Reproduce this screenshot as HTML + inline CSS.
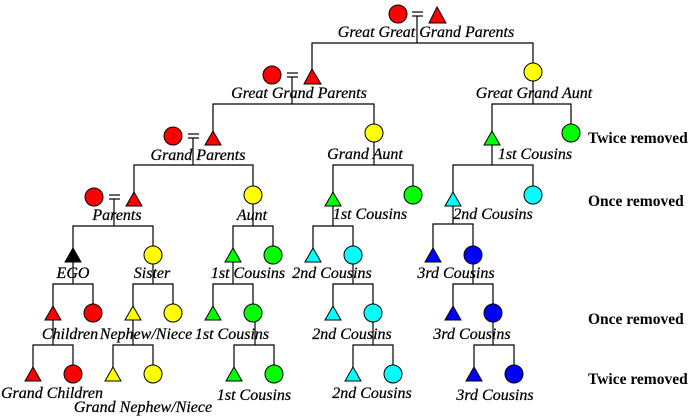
<!DOCTYPE html>
<html><head><meta charset="utf-8"><style>
html,body{margin:0;padding:0;background:#fff;}
svg{display:block;}
text{font-family:"Liberation Serif",serif;font-size:16px;font-style:italic;fill:#000;stroke:#000;stroke-width:0.25;}
text.r{font-style:normal;font-weight:bold;font-size:15.5px;stroke-width:0;}
line,polyline{stroke:#000;stroke-width:1.2;fill:none;}
circle,polygon{stroke:#000;stroke-width:1;}
</style></head><body>
<svg width="700" height="420" viewBox="0 0 700 420" xmlns="http://www.w3.org/2000/svg">
<g>
<line x1="412" y1="12" x2="423" y2="12"/><line x1="412" y1="16" x2="423" y2="16"/>
<line x1="417" y1="16" x2="417" y2="43"/>
<polyline points="312,77 312,43 533,43 533,72"/>
<line x1="287" y1="73" x2="298" y2="73"/><line x1="287" y1="77" x2="298" y2="77"/>
<line x1="292" y1="77" x2="292" y2="104"/>
<polyline points="213,139 213,104 374,104 374,133"/>
<line x1="533" y1="80" x2="533" y2="104"/>
<polyline points="492,138 492,104 571,104 571,133"/>
<line x1="492" y1="145" x2="492" y2="165"/>
<polyline points="453,200 453,165 533,165 533,195"/>
<line x1="453" y1="206" x2="453" y2="224"/>
<polyline points="433,255 433,224 473,224 473,255"/>
<line x1="473" y1="262" x2="473" y2="284"/>
<polyline points="453,313 453,284 493,284 493,313"/>
<line x1="493" y1="320" x2="493" y2="345"/>
<polyline points="474,374 474,345 514,345 514,374"/>
<line x1="188" y1="134" x2="199" y2="134"/><line x1="188" y1="138" x2="199" y2="138"/>
<line x1="193" y1="138" x2="193" y2="165"/>
<polyline points="134,199 134,165 253,165 253,195"/>
<line x1="374" y1="140" x2="374" y2="165"/>
<polyline points="333,199 333,165 413,165 413,195"/>
<line x1="333" y1="206" x2="333" y2="226"/>
<polyline points="313,255 313,226 353,226 353,255"/>
<line x1="353" y1="262" x2="353" y2="284"/>
<polyline points="333,313 333,284 373,284 373,313"/>
<line x1="373" y1="320" x2="373" y2="345"/>
<polyline points="353,374 353,345 393,345 393,374"/>
<line x1="109" y1="195" x2="120" y2="195"/><line x1="109" y1="199" x2="120" y2="199"/>
<line x1="114" y1="199" x2="114" y2="226"/>
<polyline points="73,255 73,226 153,226 153,255"/>
<line x1="73" y1="262" x2="73" y2="284"/>
<polyline points="53,313 53,284 93,284 93,313"/>
<line x1="153" y1="262" x2="153" y2="284"/>
<polyline points="133,313 133,284 173,284 173,313"/>
<line x1="53" y1="320" x2="53" y2="345"/>
<polyline points="33,374 33,345 73,345 73,374"/>
<line x1="133" y1="320" x2="133" y2="345"/>
<polyline points="113,374 113,345 153,345 153,374"/>
<line x1="253" y1="204" x2="253" y2="226"/>
<polyline points="233,255 233,226 273,226 273,255"/>
<line x1="233" y1="262" x2="233" y2="284"/>
<polyline points="213,313 213,284 253,284 253,313"/>
<line x1="255" y1="320" x2="255" y2="345"/>
<polyline points="234,374 234,345 274,345 274,374"/>
</g>
<g>
<circle cx="398" cy="14" r="9" fill="#f00"/><polygon points="429,23 437,7 446,23" fill="#f00"/>
<circle cx="272" cy="75" r="9" fill="#f00"/><polygon points="304,84 312,69 321,84" fill="#f00"/>
<circle cx="533" cy="72" r="9" fill="#ff0"/>
<polygon points="484,145 492,131 500,145" fill="#0f0"/><circle cx="571" cy="133" r="9" fill="#0f0"/>
<polygon points="445,206 453,192 461,206" fill="#0ff"/><circle cx="533" cy="195" r="9" fill="#0ff"/>
<polygon points="425,262 433,248 441,262" fill="#00f"/><circle cx="473" cy="255" r="9" fill="#00f"/>
<polygon points="445,320 453,306 461,320" fill="#00f"/><circle cx="493" cy="313" r="9" fill="#00f"/>
<polygon points="466,381 474,367 482,381" fill="#00f"/><circle cx="514" cy="374" r="9" fill="#00f"/>
<circle cx="173" cy="136" r="9" fill="#f00"/><polygon points="205,145 213,131 221,145" fill="#f00"/>
<circle cx="374" cy="133" r="9" fill="#ff0"/>
<polygon points="325,206 333,192 341,206" fill="#0f0"/><circle cx="413" cy="195" r="9" fill="#0f0"/>
<polygon points="305,262 313,248 321,262" fill="#0ff"/><circle cx="353" cy="255" r="9" fill="#0ff"/>
<polygon points="325,320 333,306 341,320" fill="#0ff"/><circle cx="373" cy="313" r="9" fill="#0ff"/>
<polygon points="345,381 353,367 361,381" fill="#0ff"/><circle cx="393" cy="374" r="9" fill="#0ff"/>
<circle cx="94" cy="197" r="9" fill="#f00"/><polygon points="126,206 134,192 142,206" fill="#f00"/>
<polygon points="65,262 73,248 81,262" fill="#000"/><circle cx="153" cy="255" r="9" fill="#ff0"/>
<polygon points="45,320 53,306 61,320" fill="#f00"/><circle cx="93" cy="313" r="9" fill="#f00"/>
<polygon points="125,320 133,306 141,320" fill="#ff0"/><circle cx="173" cy="313" r="9" fill="#ff0"/>
<polygon points="25,381 33,367 41,381" fill="#f00"/><circle cx="73" cy="374" r="9" fill="#f00"/>
<polygon points="105,381 113,367 121,381" fill="#ff0"/><circle cx="153" cy="374" r="9" fill="#ff0"/>
<circle cx="253" cy="195" r="9" fill="#ff0"/>
<polygon points="225,262 233,248 241,262" fill="#0f0"/><circle cx="273" cy="255" r="9" fill="#0f0"/>
<polygon points="205,320 213,306 221,320" fill="#0f0"/><circle cx="253" cy="313" r="9" fill="#0f0"/>
<polygon points="226,381 234,367 242,381" fill="#0f0"/><circle cx="274" cy="374" r="9" fill="#0f0"/>
</g>
<g text-anchor="middle">
<text x="426" y="37">Great Great Grand Parents</text>
<text x="299" y="98">Great Grand Parents</text>
<text x="534" y="98">Great Grand Aunt</text>
<text x="198" y="160">Grand Parents</text>
<text x="365" y="159">Grand Aunt</text>
<text x="535" y="159">1st Cousins</text>
<text x="117" y="220">Parents</text>
<text x="252" y="220">Aunt</text>
<text x="370" y="219">1st Cousins</text>
<text x="493" y="219">2nd Cousins</text>
<text x="73" y="278">EGO</text>
<text x="152" y="278">Sister</text>
<text x="248" y="278">1st Cousins</text>
<text x="332" y="278">2nd Cousins</text>
<text x="456" y="278">3rd Cousins</text>
<text x="70" y="339">Children</text>
<text x="146" y="339">Nephew/Niece</text>
<text x="232" y="339">1st Cousins</text>
<text x="352" y="339">2nd Cousins</text>
<text x="472" y="339">3rd Cousins</text>
<text x="52" y="398">Grand Children</text>
<text x="143" y="412">Grand Nephew/Niece</text>
<text x="254" y="400">1st Cousins</text>
<text x="372" y="398">2nd Cousins</text>
<text x="495" y="400">3rd Cousins</text>
</g>
<text class="r" x="588" y="143">Twice removed</text>
<text class="r" x="588" y="206">Once removed</text>
<text class="r" x="588" y="324">Once removed</text>
<text class="r" x="588" y="384">Twice removed</text>
</svg>
</body></html>
